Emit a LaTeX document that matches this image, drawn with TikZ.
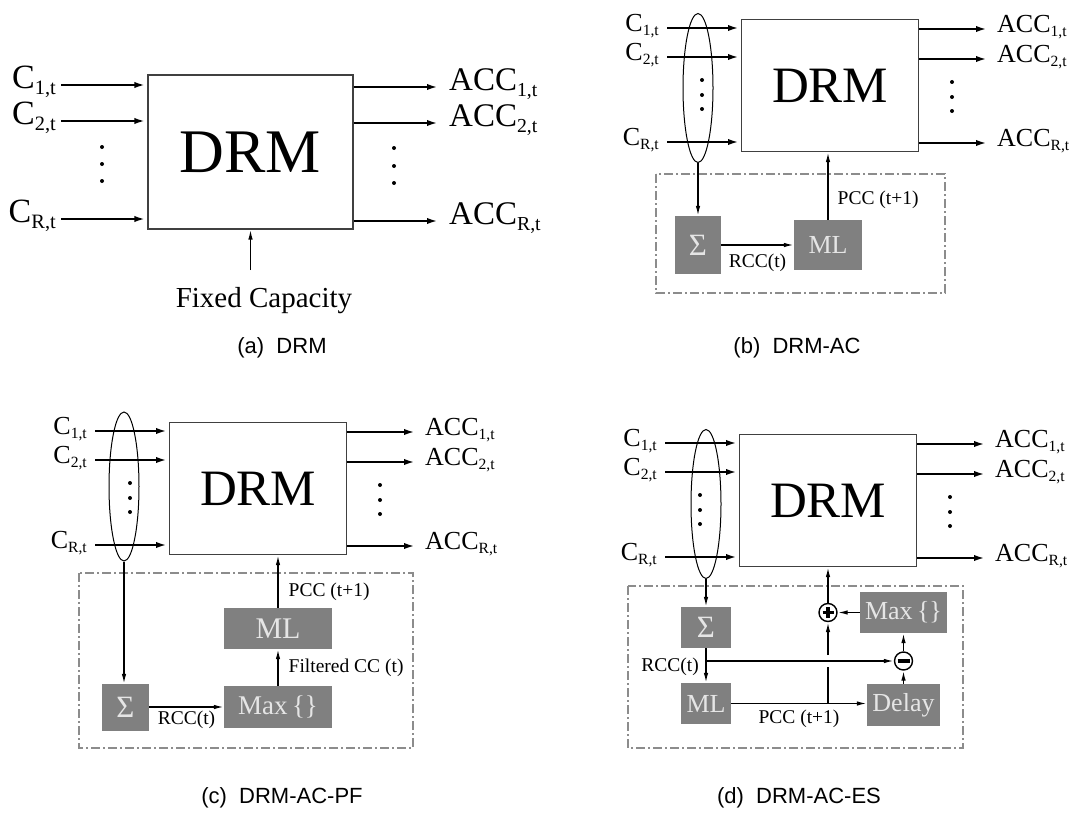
\documentclass[tikz,border=0pt]{standalone}
\usepackage{fontspec}
\setmainfont{Liberation Serif}
\newfontfamily\capfont{Liberation Sans}
\usetikzlibrary{arrows.meta}
\usetikzlibrary{shapes.geometric}

\newcommand{\lowsub}[1]{\raisebox{-0.17em}{\scalebox{0.6}{#1}}}

\tikzset{
  drm/.style={draw=black!75, line width=1.2pt, fill=white, inner sep=0pt},
  blk/.style={fill=black!50, text=white!90!black, inner sep=0pt,
    font=\fontsize{26}{26}\selectfont},
  lbl/.style={inner sep=0pt, font=\fontsize{19.5}{20}\selectfont},
  io/.style={inner sep=0pt, font=\fontsize{26}{26}\selectfont},
  busarr/.style={line width=2.9pt, -{Latex[length=13pt,width=6pt]}},
  sigarr/.style={line width=1.4pt, -{Latex[length=10pt,width=4.5pt]}},
  fbbox/.style={draw=black!45, line width=1.5pt,
    dash pattern=on 9pt off 3pt on 2pt off 3pt},
  ring/.style={draw, ellipse, line width=1pt, inner sep=0pt,
    minimum width=30pt, minimum height=149pt},
  summer/.style={draw, circle, line width=1.4pt, fill=white, inner sep=0pt,
    minimum size=18pt},
  plussign/.style={summer, path picture={
    \draw[line width=3.2pt] ([xshift=-5.5pt]path picture bounding box.center)
      -- ([xshift=5.5pt]path picture bounding box.center);
    \draw[line width=3.2pt] ([yshift=-5.5pt]path picture bounding box.center)
      -- ([yshift=5.5pt]path picture bounding box.center);}},
  minussign/.style={summer, path picture={
    \draw[line width=4pt] ([xshift=-6pt]path picture bounding box.center)
      -- ([xshift=6pt]path picture bounding box.center);}},
  sigma/.style={font=\fontsize{31}{31}\selectfont},
  capt/.style={anchor=base, inner sep=0pt,
    font=\capfont\fontsize{22}{22}\selectfont}
}

\begin{document}
\begin{tikzpicture}[x=1pt,y=-1pt]
\useasboundingbox (0,0) rectangle (1082,816);

% (a) DRM
\node[drm, minimum width=205pt, minimum height=154pt,
  font=\fontsize{62}{62}\selectfont] (drmA) at (250.5,152) {DRM};
\foreach \n/\y/\s in {1/85/1,2/121/2,3/219/R} {
  \coordinate (inA\n) at (61,\y);
  \draw[busarr] (inA\n) -- (inA\n -| drmA.west);
  \node[anchor=east, inner sep=0pt, font=\fontsize{34}{34}\selectfont]
    (cA\n) at (56,\y-3) {C\lowsub{\s,t}};
}
\foreach \n/\y/\s in {1/87/1,2/123/2,3/221/R} {
  \coordinate (outA\n) at (440,\y);
  \draw[busarr] (outA\n -| drmA.east) -- (outA\n);
  \node[anchor=west, inner sep=0pt, font=\fontsize{33}{33}\selectfont]
    (accA\n) at (449,\y-3) {ACC\lowsub{\s,t}};
}
\foreach \y in {147,164,181} \fill (102,\y) circle[radius=2pt];
\foreach \y in {148,166,183} \fill (394,\y) circle[radius=2pt];
\node[anchor=base, inner sep=0pt, font=\fontsize{29}{29}\selectfont]
  (fixA) at (264,307) {Fixed Capacity};
\coordinate (fixtopA) at (250.5,270);
\draw[sigarr] (fixtopA) -- (drmA.south);
\node[capt] (capA) at (282,353) {(a)\ \ DRM};

% top part, same in (b), (c) and (d)
\foreach \p/\bx/\by/\ex/\ey in {B/741/19/-43/69,C/169/422/-45/64.5,D/739/434/-33/70} {
\begin{scope}[shift={(\bx,\by)}]
  \node[drm, anchor=north west, minimum width=177pt, minimum height=132pt,
    font=\fontsize{51}{51}\selectfont] (drm\p) at (0,0) {DRM};
  \foreach \n/\y/\s in {1/9/1,2/38/2,3/123/R} {
    \coordinate (in\p\n) at (-74,\y);
    \draw[busarr] (in\p\n) -- (in\p\n -| drm\p.west);
    \node[io, anchor=east] (c\p\n) at (-82,\y-2) {C\lowsub{\s,t}};
  }
  \foreach \n/\y/\s in {1/10/1,2/40/2,3/124/R} {
    \coordinate (out\p\n) at (248,\y);
    \draw[busarr] (out\p\n -| drm\p.east) -- (out\p\n);
    \node[io, anchor=west] (acc\p\n) at (256,\y-2) {ACC\lowsub{\s,t}};
  }
  \foreach \y in {61,76,90} \fill (-39,\y) circle[radius=2pt];
  \foreach \y in {63,78,92} \fill (211,\y) circle[radius=2pt];
  \node[ring] (grp\p) at (\ex,\ey) {};
\end{scope}
}

% (b) DRM-AC
\draw[fbbox] (656,174) rectangle (945,293);
\node[blk, sigma, minimum width=46pt, minimum height=58pt] (sumB) at (698,245) {Σ};
\node[blk, minimum width=68pt, minimum height=50pt] (mlB) at (828,245) {ML};
\draw[sigarr] (grpB.south) -- (grpB.south |- sumB.north);
\draw[sigarr] (sumB) -- node[lbl, below=8pt] (rccB) {RCC(t)} (mlB);
\draw[sigarr] (mlB) -- node[lbl, pos=0.3, right=9pt] (pccB) {PCC (t+1)}
  (mlB |- drmB.south);
\node[capt] (capB) at (797,353) {(b)\ \ DRM-AC};

% (c) DRM-AC-PF
\draw[fbbox] (79,573) rectangle (413,748);
\node[blk, sigma, minimum width=47pt, minimum height=47pt] (sumC) at (125.5,707.5) {Σ};
\node[blk, minimum width=108pt, minimum height=42pt,
  font=\fontsize{27}{27}\selectfont] (maxC) at (278,707) {Max\,\{\}};
\node[blk, minimum width=108pt, minimum height=41pt,
  font=\fontsize{30}{30}\selectfont] (mlC) at (278,628.5) {ML};
\draw[sigarr] (grpC.south) -- (grpC.south |- sumC.north);
\draw[sigarr] (sumC.east |- maxC.west) -- node[lbl, below=3pt] (rccC) {RCC(t)}
  (maxC.west);
\draw[sigarr] (maxC) -- node[lbl, right=10pt] (filtC) {Filtered CC (t)} (mlC);
\draw[sigarr] (mlC) -- node[lbl, pos=0.3, right=10pt] (pccC) {PCC (t+1)}
  (mlC |- drmC.south);
\node[capt] (capC) at (282,803) {(c)\ \ DRM-AC-PF};

% (d) DRM-AC-ES
\draw[fbbox] (628,586) rectangle (963,748);
\node[blk, sigma, minimum width=50pt, minimum height=41pt] (sumD) at (706,627.5) {Σ};
\node[blk, minimum width=50pt, minimum height=41pt] (mlD) at (706,703.5) {ML};
\node[blk, minimum width=73pt, minimum height=42pt] (delD) at (903.5,705) {Delay};
\node[blk, minimum width=87pt, minimum height=41pt] (maxD) at (903.5,612.5) {Max\,\{\}};
\node[plussign] (addD) at (828,612.5) {};
\node[minussign] (subD) at (903.5,661) {};
\draw[sigarr] (grpD.south) -- (grpD.south |- sumD.north);
\draw[sigarr] (sumD) -- (mlD);
\coordinate (rccD) at (sumD.south |- subD.west);
\draw[sigarr] (rccD) -- (subD);
\node[lbl, anchor=east] (rcclD) at (699,667) {RCC(t)};
\draw[sigarr] (mlD.east) -- node[lbl, below=6pt] (pccD) {PCC (t+1)}
  (mlD.east -| delD.west);
\coordinate (jD) at (addD.south |- mlD.east);
\coordinate (xD) at (addD.south |- rccD);
\draw[line width=1.4pt] (jD) -- ([yshift=-6pt]xD);
\draw[sigarr] ([yshift=6pt]xD) -- (addD);
\draw[sigarr] (maxD) -- (addD);
\draw[sigarr] (addD) -- (addD |- drmD.south);
\draw[sigarr] (delD) -- (subD);
\draw[sigarr] (subD) -- (subD |- maxD.south);
\node[capt] (capD) at (799,803) {(d)\ \ DRM-AC-ES};
\end{tikzpicture}
\end{document}
